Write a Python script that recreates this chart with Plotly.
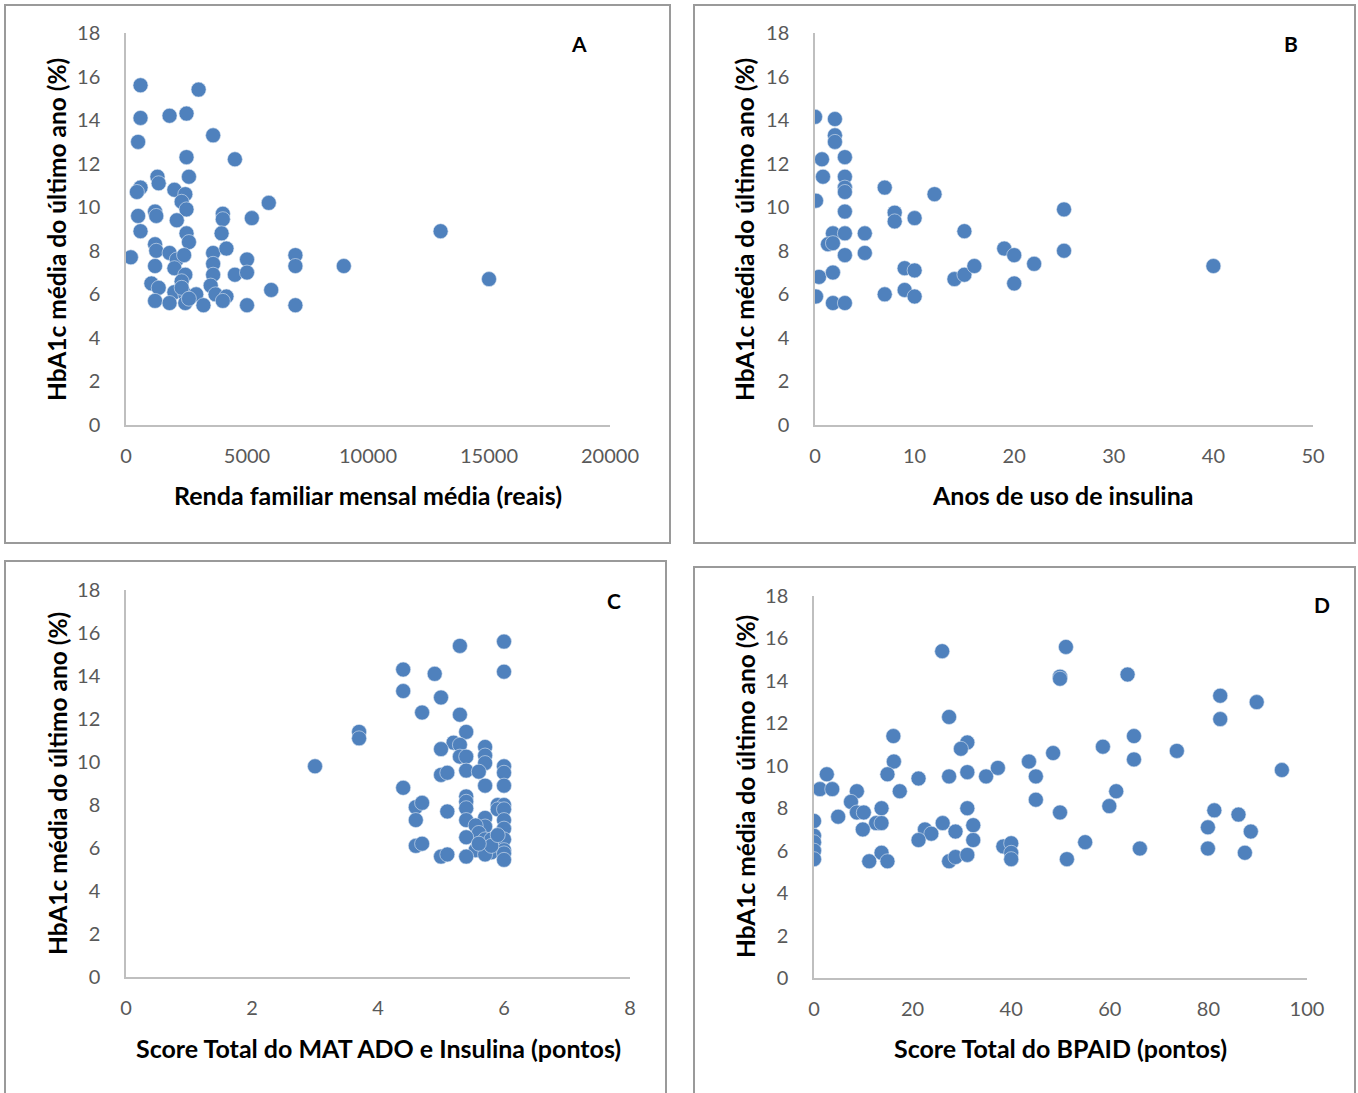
import plotly.graph_objects as go

W, H = 1358, 1093

# ---------------- data ----------------
renda = [200, 600, 600, 3000, 1800, 2500, 500, 3600, 2500, 4500, 1300, 1350, 2600, 600, 450,
         2000, 2450, 2300, 2500, 5900, 500, 1200, 1250, 2100, 4000, 4000, 5200, 600, 2500, 2600,
         3950, 1200, 1250, 1800, 2100, 2400, 3600, 4150, 3600, 5000, 7000, 7000, 1200, 2000, 2450,
         3600, 4500, 5000, 1050, 1350, 2300, 3500, 2000, 2450, 2900, 3700, 4150, 6000, 1200, 1800,
         2450, 3200, 4000, 5000, 7000, 9000, 13000, 15000, 2300, 2600]
hba1c_a = [7.7, 15.6, 14.1, 15.4, 14.2, 14.3, 13.0, 13.3, 12.3, 12.2, 11.4, 11.1, 11.4, 10.9, 10.7,
           10.8, 10.6, 10.25, 9.9, 10.2, 9.6, 9.8, 9.6, 9.4, 9.7, 9.45, 9.5, 8.9, 8.8, 8.4,
           8.8, 8.3, 8.0, 7.9, 7.6, 7.8, 7.9, 8.1, 7.4, 7.6, 7.8, 7.3, 7.3, 7.2, 6.9,
           6.9, 6.9, 7.0, 6.5, 6.3, 6.6, 6.4, 6.1, 6.0, 6.0, 6.0, 5.9, 6.2, 5.7, 5.6,
           5.6, 5.5, 5.7, 5.5, 5.5, 7.3, 8.9, 6.7, 6.3, 5.8]

anos = [0, 2, 2, 2, 0.7, 3, 0.8, 3, 3, 3, 7, 12, 0.1, 3, 8, 8, 10, 15, 1.8, 3, 5, 1.3, 1.8,
        3, 5, 9, 10, 14, 15, 16, 0.4, 1.8, 0.1, 7, 9, 10, 1.8, 3, 19, 20, 20, 22, 25, 25, 40]
hba1c_b = [14.15, 14.05, 13.3, 13.0, 12.2, 12.3, 11.4, 11.4, 10.9, 10.7, 10.9, 10.6, 10.3, 9.8,
           9.75, 9.35, 9.5, 8.9, 8.8, 8.8, 8.8, 8.3, 8.35, 7.8, 7.9, 7.2, 7.1, 6.7, 6.9, 7.3,
           6.8, 7.0, 5.9, 6.0, 6.2, 5.9, 5.6, 5.6, 8.1, 7.8, 6.5, 7.4, 9.9, 8.0, 7.3]

mat = [3.0, 3.7, 3.7, 4.4, 4.4, 4.4, 4.9, 5.0, 4.7, 5.3, 6.0, 6.0, 5.3, 5.4, 5.2, 5.3, 5.0, 5.7,
       5.7, 5.3, 5.4, 5.7, 5.4, 5.6, 6.0, 6.0, 5.0, 5.1, 5.7, 6.0, 5.4, 5.4, 5.4, 4.6, 4.7, 5.1,
       4.6, 5.4, 5.7, 5.7, 5.9, 6.0, 5.9, 6.0, 6.0, 6.0, 5.55, 5.6, 5.4, 5.7, 5.8, 6.0, 4.6, 4.7,
       5.55, 5.7, 5.8, 6.0, 6.0, 5.0, 5.1, 5.4, 5.7, 6.0, 5.8, 5.9, 5.6]
hba1c_c = [9.8, 11.4, 11.1, 14.3, 13.3, 8.8, 14.1, 13.0, 12.3, 15.4, 15.6, 14.2, 12.2, 11.4, 10.9,
           10.8, 10.6, 10.7, 10.3, 10.25, 10.25, 9.95, 9.6, 9.55, 9.8, 9.5, 9.4, 9.5, 8.9, 8.9,
           8.4, 8.15, 7.85, 7.9, 8.1, 7.7, 7.3, 7.3, 7.4, 7.0, 8.0, 8.0, 7.8, 7.8, 7.3, 6.9,
           7.05, 6.7, 6.5, 6.4, 6.4, 6.4, 6.1, 6.2, 5.9, 6.0, 5.8, 5.9, 5.75, 5.6, 5.7, 5.6,
           5.7, 5.45, 6.1, 6.6, 6.2]

bpaid = [26, 27.4, 16.1, 31.1, 29.8, 16.2, 43.6, 14.9, 21.2, 27.4, 31.1, 34.9, 37.3, 45, 48.5,
         2.6, 1.2, 3.7, 8.7, 17.4, 45, 7.5, 8.7, 10.1, 4.9, 13.7, 31.1, 12.6, 13.7, 0, 9.9,
         26.1, 32.3, 28.7, 22.5, 23.8, 0, 0, 21.2, 32.3, 0, 0, 38.4, 40, 40, 40, 13.7, 11.2,
         14.9, 27.4, 28.7, 31.1, 51.1, 49.9, 49.9, 63.6, 82.4, 89.8, 82.4, 64.9, 58.6, 73.6,
         64.9, 94.9, 61.3, 59.9, 49.9, 81.2, 86.1, 79.9, 88.6, 55, 66.1, 79.9, 87.4, 51.3]
hba1c_d = [15.4, 12.3, 11.4, 11.1, 10.8, 10.2, 10.2, 9.6, 9.4, 9.5, 9.7, 9.5, 9.9, 9.5, 10.6,
           9.6, 8.9, 8.9, 8.8, 8.8, 8.4, 8.3, 7.8, 7.8, 7.6, 8.0, 8.0, 7.3, 7.3, 7.4, 7.0,
           7.3, 7.2, 6.9, 7.0, 6.8, 6.7, 6.4, 6.5, 6.5, 6.0, 5.6, 6.2, 6.35, 5.9, 5.6, 5.9, 5.5,
           5.5, 5.5, 5.7, 5.8, 15.6, 14.2, 14.1, 14.3, 13.3, 13.0, 12.2, 11.4, 10.9, 10.7,
           10.3, 9.8, 8.8, 8.1, 7.8, 7.9, 7.7, 7.1, 6.9, 6.4, 6.1, 6.1, 5.9, 5.6]

y_title = "HbA1c média do último ano (%)"
panels = [
    dict(x=renda, y=hba1c_a, xr=[0, 20000], dt=5000, letter="A",
         xt="Renda familiar mensal média (reais)"),
    dict(x=anos, y=hba1c_b, xr=[0, 50], dt=10, letter="B",
         xt="Anos de uso de insulina"),
    dict(x=mat, y=hba1c_c, xr=[0, 8], dt=2, letter="C",
         xt="Score Total do MAT ADO e Insulina (pontos)"),
    dict(x=bpaid, y=hba1c_d, xr=[0, 100], dt=20, letter="D",
         xt="Score Total do BPAID (pontos)"),
]

# ---------------- layout (pixels) ----------------
plot_px = [(126, 610, 33, 425), (815, 1313, 33, 425), (126, 630, 590, 977), (814, 1307, 596, 978)]
box_px = [(5, 670, 5, 543), (694, 1355, 5, 543), (5, 666, 561, 1110), (694, 1355, 567, 1110)]
letter_px = [(579, 44), (1291, 44), (614, 600), (1322, 604)]
xtitle_px = [(368, 495), (1063, 495), (378, 1048), (1060, 1048)]
ytitle_px = [(57, 230), (745, 230), (57, 784), (745, 787)]

fx = lambda px: px / W
fy = lambda py: 1 - py / H

FONT = "Lato"
fig = go.Figure()
shapes, annotations = [], []
for i, p in enumerate(panels):
    n = i + 1
    xa = "x" if n == 1 else f"x{n}"
    ya = "y" if n == 1 else f"y{n}"
    fig.add_trace(go.Scatter(
        x=p["x"], y=p["y"], mode="markers", xaxis=xa, yaxis=ya, showlegend=False,
        marker=dict(size=15, color="#4F81BD", line=dict(width=0.6, color="#dbe5f1")),
        hoverinfo="skip"))
    x0, x1, y0, y1 = plot_px[i]
    axis_common = dict(showgrid=False, zeroline=False, showline=True, linecolor="#BFBFBF",
                       linewidth=1.5, ticks="", tickfont=dict(family=FONT, size=20, color="#595959"),
                       fixedrange=True, tickformat="d", automargin=False)
    fig.update_layout({
        ("xaxis" if n == 1 else f"xaxis{n}"): dict(
            domain=[fx(x0), fx(x1)], range=p["xr"], dtick=p["dt"], tick0=0, anchor=ya,
            ticklabelstandoff=12, **axis_common),
        ("yaxis" if n == 1 else f"yaxis{n}"): dict(
            domain=[fy(y1), fy(y0)], range=[0, 18], dtick=2, tick0=0, anchor=xa,
            ticklabelstandoff=20, **axis_common),
    })
    bx0, bx1, by0, by1 = box_px[i]
    shapes.append(dict(type="rect", xref="paper", yref="paper", x0=fx(bx0), x1=fx(bx1),
                       y0=fy(by1), y1=fy(by0), line=dict(color="#9A9A9A", width=2),
                       fillcolor="rgba(0,0,0,0)", layer="below"))
    lx, ly = letter_px[i]
    annotations.append(dict(text=f"<b>{p['letter']}</b>", x=fx(lx), y=fy(ly), xref="paper",
                            yref="paper", showarrow=False, xanchor="center", yanchor="middle",
                            font=dict(family=FONT, size=21, color="black")))
    tx, ty = xtitle_px[i]
    annotations.append(dict(text=f"<b>{p['xt']}</b>", x=fx(tx), y=fy(ty), xref="paper",
                            yref="paper", showarrow=False, xanchor="center", yanchor="middle",
                            font=dict(family=FONT, size=25, color="black")))
    tx, ty = ytitle_px[i]
    annotations.append(dict(text=f"<b>{y_title}</b>", x=fx(tx), y=fy(ty), xref="paper",
                            yref="paper", showarrow=False, xanchor="center", yanchor="middle",
                            textangle=-90, font=dict(family=FONT, size=24.5, color="black")))

fig.update_layout(width=W, height=H, margin=dict(l=0, r=0, t=0, b=0, pad=0, autoexpand=False),
                  paper_bgcolor="white", plot_bgcolor="white",
                  shapes=shapes, annotations=annotations)
fig.write_html("out.html", include_plotlyjs=True, config={"displayModeBar": False},
               post_script="document.body.style.margin='0';document.body.style.overflow='hidden';")
